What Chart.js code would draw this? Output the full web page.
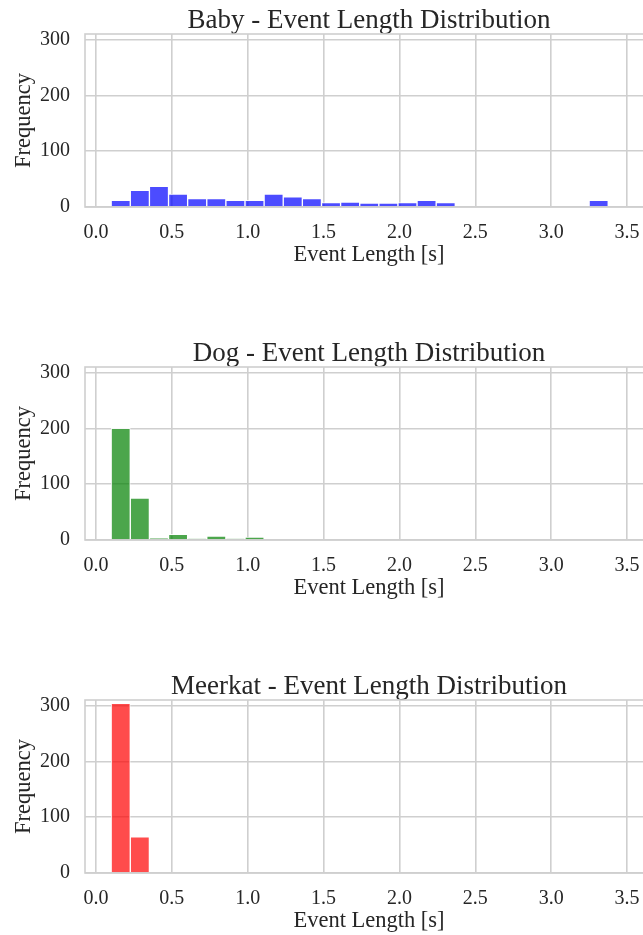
<!DOCTYPE html>
<html>
<head>
<meta charset="utf-8">
<title>Event Length Distribution</title>
<script src="https://cdn.jsdelivr.net/npm/chart.js@4.4.1/dist/chart.umd.min.js"></script>
<style>
    html, body { margin: 0; padding: 0; background: #ffffff; overflow: hidden; }
    body { width: 643px; height: 935px; }
    canvas { display: block; }
</style>
</head>
<body>
<canvas id="babyChart" width="660" height="333"></canvas>
<canvas id="dogChart" width="660" height="333"></canvas>
<canvas id="meerkatChart" width="660" height="333"></canvas>

<script>
// Histogram bins (left edges, seconds), shared by all three species
const binEdges = [0.100, 0.226, 0.352, 0.478, 0.604, 0.730, 0.856, 0.982, 1.108, 1.234,
                  1.360, 1.486, 1.612, 1.738, 1.864, 1.990, 2.116, 2.242, 2.368, 2.494,
                  2.620, 2.746, 2.872, 2.998, 3.124, 3.250];
const binWidth = 0.126;

// Counts per bin
const babyCounts = [12, 30, 37, 23, 15, 15, 12, 12, 23, 18, 15, 8, 9,
                    7, 7, 8, 12, 8, 0, 0, 0, 0, 0, 0, 0, 12];
const dogCounts = [200, 75, 3, 10, 2, 7, 2, 5, 0, 0, 0, 0, 0,
                   0, 0, 0, 0, 0, 0, 0, 0, 0, 0, 0, 0, 0];
const meerkatCounts = [304, 65, 0, 0, 0, 0, 0, 0, 0, 0, 0, 0, 0,
                       0, 0, 0, 0, 0, 0, 0, 0, 0, 0, 0, 0, 0];

// Axis ticks and limits
const xTicks = [0.0, 0.5, 1.0, 1.5, 2.0, 2.5, 3.0, 3.5];
const yTicks = [0, 100, 200, 300];
const xLimits = [-0.0725, 3.671];
const yLimits = [0, 310];

const FONT = "'Liberation Serif', 'Times New Roman', serif";
const TEXT_COLOR = '#262626';
const GRID_COLOR = '#cfcfcf';

// draws the box around the plot area (matplotlib spines)
const framePlugin = {
    id: 'frame',
    afterDatasetsDraw(chart) {
        const a = chart.chartArea;
        const ctx = chart.ctx;
        ctx.save();
        ctx.strokeStyle = GRID_COLOR;
        ctx.lineWidth = 1.6;
        ctx.strokeRect(a.left, a.top, a.right - a.left, a.bottom - a.top);
        ctx.restore();
    }
};

function makeHistogram(canvasId, title, counts, color) {
    const ctx = document.getElementById(canvasId).getContext('2d');
    return new Chart(ctx, {
        type: 'bar',
        data: {
            datasets: [{
                data: binEdges.map((e, i) => ({ x: e + binWidth / 2, y: counts[i] })),
                backgroundColor: color,
                borderColor: 'rgba(255, 255, 255, 0.85)',
                borderWidth: 1,
                barPercentage: 1,
                categoryPercentage: 1
            }]
        },
        options: {
            responsive: false,
            animation: false,
            layout: { padding: { left: 0, right: 7, top: 0, bottom: 0 } },
            plugins: {
                legend: { display: false },
                tooltip: { enabled: false },
                title: {
                    display: true,
                    text: title,
                    fullSize: false,
                    color: TEXT_COLOR,
                    font: { family: FONT, size: 27, weight: 'normal', lineHeight: 1.0 },
                    padding: { top: 7.4, bottom: -0.4 }
                }
            },
            scales: {
                x: {
                    type: 'linear',
                    min: xLimits[0],
                    max: xLimits[1],
                    offset: false,
                    afterBuildTicks: function(scale) {
                        scale.ticks = xTicks.map(v => ({ value: v }));
                    },
                    afterFit: function(scale) { scale.height = 126; },
                    grid: { color: GRID_COLOR, lineWidth: 1.6, drawTicks: false, offset: false },
                    border: { display: false },
                    ticks: {
                        color: TEXT_COLOR,
                        font: { family: FONT, size: 20 },
                        padding: 14,
                        maxRotation: 0,
                        autoSkip: false,
                        callback: function(value) { return value.toFixed(1); }
                    },
                    title: {
                        display: true,
                        text: 'Event Length [s]',
                        color: TEXT_COLOR,
                        font: { family: FONT, size: 22.5 },
                        padding: { top: 0, bottom: 64 }
                    }
                },
                y: {
                    min: yLimits[0],
                    max: yLimits[1],
                    afterBuildTicks: function(scale) {
                        scale.ticks = yTicks.map(v => ({ value: v }));
                    },
                    afterFit: function(scale) { scale.width = 85; },
                    grid: { color: GRID_COLOR, lineWidth: 1.6, drawTicks: false },
                    border: { display: false },
                    ticks: {
                        color: TEXT_COLOR,
                        font: { family: FONT, size: 20 },
                        padding: 15
                    },
                    title: {
                        display: true,
                        text: 'Frequency',
                        color: TEXT_COLOR,
                        font: { family: FONT, size: 22.5 },
                        padding: { top: 10.5, bottom: 0 }
                    }
                }
            }
        },
        plugins: [framePlugin]
    });
}

makeHistogram('babyChart', 'Baby - Event Length Distribution', babyCounts, 'rgba(0, 0, 255, 0.7)');
makeHistogram('dogChart', 'Dog - Event Length Distribution', dogCounts, 'rgba(0, 128, 0, 0.7)');
makeHistogram('meerkatChart', 'Meerkat - Event Length Distribution', meerkatCounts, 'rgba(255, 0, 0, 0.7)');
</script>
</body>
</html>
